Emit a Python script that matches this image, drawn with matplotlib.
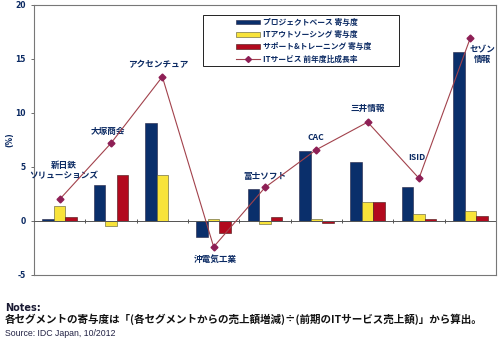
import numpy as np
import matplotlib.pyplot as plt
from matplotlib.patches import Patch, Rectangle
from matplotlib.lines import Line2D

plt.rcParams['font.family'] = ['Noto Sans CJK JP', 'DejaVu Sans']
plt.rcParams['axes.unicode_minus'] = False

#%% data
companies = ['新日鉄\nソリューションズ', '大塚商会', 'アクセンチュア', '沖電気工業',
             '富士ソフト', 'CAC', '三井情報', 'ISID', 'セゾン\n情報']
project = [0.2, 3.35, 9.1, -1.5, 2.95, 6.5, 5.5, 3.1, 15.6]
outsourcing = [1.35, -0.45, 4.25, 0.15, -0.3, 0.15, 1.8, 0.6, 0.9]
support = [0.35, 4.25, 0.0, -1.15, 0.35, -0.15, 1.8, 0.2, 0.5]
growth = [2.0, 7.2, 13.35, -2.4, 3.1, 6.6, 9.15, 3.95, 16.95]
series_names = ['プロジェクトベース 寄与度', 'ITアウトソーシング 寄与度',
                'サポート&トレーニング 寄与度', 'ITサービス 前年度比成長率']

# label offsets (points) relative to growth marker
label_off = [(3, 21), (-2, 8.5), (-3, 8.5), (1.5, -9), (0, 8), (0, 9), (0, 10), (-1.5, 15), (9, -12)]

navy = '#0b2a63'
col_blue = '#0a2f6b'
col_yel = '#f8e33a'
col_red = '#b20a1e'
col_line = '#a2424c'
col_mark = '#8e1f55'

#%%
fig = plt.figure(figsize=(5, 3.53), dpi=100)
ax = fig.add_axes([0.068, 0.221, 0.924, 0.765])

x = np.arange(len(companies))
w = 0.225
ax.bar(x - w, project, w, color=col_blue, edgecolor='#222244', linewidth=0.4)
ax.bar(x, outsourcing, w, color=col_yel, edgecolor='#555533', linewidth=0.4)
ax.bar(x + w, support, w, color=col_red, edgecolor='#441111', linewidth=0.4)
ax.plot(x, growth, color=col_line, lw=0.8, marker='D', ms=3.5,
        markerfacecolor=col_mark, markeredgecolor=col_mark, zorder=4)

ax.axhline(0, color='#555555', lw=0.7, zorder=3)
ax.vlines(x[:-1] + 0.5, -0.2, 0.2, color='#555555', lw=0.7, zorder=3)

for i, name in enumerate(companies):
    ax.annotate(name, (x[i], growth[i]), xytext=label_off[i], textcoords='offset points',
                ha='center', va='center', fontsize=6.2, fontweight='bold', color=navy,
                linespacing=1.1)

ax.set_xlim(-0.5, len(companies) - 0.5)
ax.set_ylim(-5, 20)
ax.set_yticks([-5, 0, 5, 10, 15, 20])
ax.set_xticks([])
ax.tick_params(axis='y', labelsize=5.5, length=2, width=0.6, colors='#555555',
               labelcolor=navy, pad=4)
for t in ax.get_yticklabels():
    t.set_fontweight('bold')
    t.set_family(['DejaVu Sans'])
ax.set_ylabel('(%)', fontsize=5.5, fontweight='bold', color=navy, labelpad=0.5,
              family=['DejaVu Sans'])
for s in ax.spines.values():
    s.set_color('#777777')
    s.set_linewidth(0.8)

# legend: box drawn separately, entries centred in it
ax.add_patch(Rectangle((0.366, 0.774), 0.424, 0.189, transform=ax.transAxes,
                       facecolor='white', edgecolor='#222222', lw=0.7, zorder=5))
handles = [Patch(facecolor=col_blue, edgecolor='#222244', lw=0.4),
           Patch(facecolor=col_yel, edgecolor='#555533', lw=0.4),
           Patch(facecolor=col_red, edgecolor='#441111', lw=0.4),
           Line2D([], [], color=col_line, lw=0.8, marker='D', ms=3,
                  markerfacecolor=col_mark, markeredgecolor=col_mark)]
leg = ax.legend(handles, series_names, loc='center', bbox_to_anchor=(0.583, 0.868),
                frameon=False, prop={'size': 5.6, 'weight': 'bold'},
                handlelength=3.2, handleheight=0.55, labelspacing=0.42,
                borderpad=0, handletextpad=0.3, borderaxespad=0)
leg.set_zorder(6)
for t in leg.get_texts():
    t.set_color(navy)

fig.text(0.01, 1 - 308 / 353, 'Notes:', fontsize=7, fontweight='bold', color='#1a1a33',
         va='center', family=['DejaVu Sans'])
fig.text(0.01, 1 - 319 / 353,
         '各セグメントの寄与度は「(各セグメントからの売上額増減)÷(前期のITサービス売上額)」から算出。',
         fontsize=7.6, fontweight='bold', color='#111111', va='center')
fig.text(0.01, 1 - 333 / 353, 'Source: IDC Japan, 10/2012', fontsize=6.3, color='#222244',
         va='center', family=['Liberation Sans'])

plt.savefig('out.png', dpi=100)
